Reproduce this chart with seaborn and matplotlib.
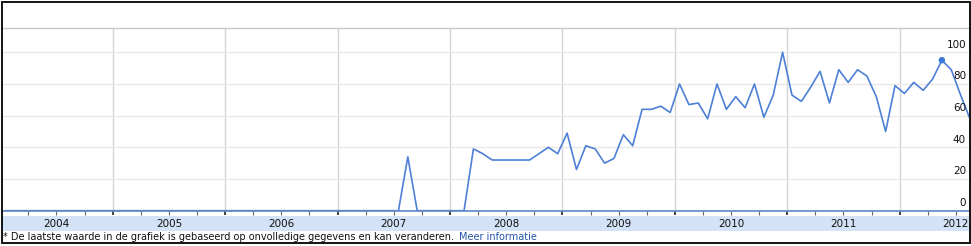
import numpy as np
import pandas as pd
import matplotlib
matplotlib.use("Agg")
import matplotlib.pyplot as plt
import seaborn as sns
from matplotlib.patches import Rectangle
from matplotlib.transforms import blended_transform_factory

# ---------------- data ----------------
months = pd.period_range("2004-01", "2012-08", freq="M").astype(str).tolist()
values = ([0] * 43 + [34] + [0] * 6 +
          [39, 36, 32, 32, 32, 32, 32, 36, 40, 36,
           49, 26, 41, 39, 30, 33, 48, 41, 64, 64, 66, 62,
           80, 67, 68, 58, 80, 64, 72, 65, 80, 59, 73, 100,
           73, 69, 78, 88, 68, 89, 81, 89, 85, 72, 50, 79,
           74, 81, 76, 83, 95, 89, 73, 58])
highlight_month = "2012-05"
year_labels = ["2004", "2005", "2006", "2007", "2008", "2009", "2010", "2011", "2012"]
y_ticks = [0, 20, 40, 60, 80, 100]
footnote = "* De laatste waarde in de grafiek is gebaseerd op onvolledige gegevens en kan veranderen."
link_text = "Meer informatie"

df = pd.DataFrame({"month": months, "value": values})
df["x"] = np.arange(len(df)) + 0.5   # mid-month position (months since Jan 2004)

# ---------------- figure ----------------
sns.set_theme(style="white")
plt.rcParams["font.family"] = ["DejaVu Sans"]

W, H = 971, 246
fig = plt.figure(figsize=(W / 100, H / 100), dpi=100)
fig.patch.set_facecolor("white")


def fx(px):
    return px / W


def fy(py):
    return 1 - py / H


left, right, top, bottom = 2, 969, 28, 210.7
ax = fig.add_axes([fx(left), fy(bottom), fx(right - left), (bottom - top) / H])
ax.set_facecolor("white")

px_per_month = 112.43 / 12
px_per_unit = 1.584
x0_px = 0.27

# line
sns.lineplot(data=df, x="x", y="value", ax=ax, color="#4d80d6", linewidth=1.2)
hl = df[df["month"] == highlight_month]
sns.scatterplot(data=hl, x="x", y="value", ax=ax, color="#3f78dc", s=22,
                edgecolor="none", zorder=5)
ax.set_xlabel("")
ax.set_ylabel("")

# grid
ax.set_yticks(y_ticks)
ax.set_yticklabels([])
ax.tick_params(axis="y", length=0)
ax.yaxis.grid(True, color="#e8e8e8", linewidth=1)

year_starts = [12 * k for k in range(1, len(year_labels))]
quarters = [3 * k for k in range(1, 12 * len(year_labels) // 3) if (3 * k) % 12 != 0]
ax.set_xticks(year_starts)
ax.set_xticks(quarters, minor=True)
ax.set_xticklabels([])
ax.xaxis.grid(True, which="major", color="#d4d4d4", linewidth=1)
ax.tick_params(axis="x", which="major", direction="out", length=3.2, width=1.1,
               color="#111111", bottom=True)
ax.tick_params(axis="x", which="minor", direction="out", length=3.0, width=0.8,
               color="#666666", bottom=True)

# limits (after ticks so they are not expanded)
ax.set_xlim((left - x0_px) / px_per_month, (right - x0_px) / px_per_month)
ax.set_ylim(0, (bottom - top) / px_per_unit)

for s in ["left", "right"]:
    ax.spines[s].set_visible(False)
ax.spines["bottom"].set_color("#5c87c8")
ax.spines["bottom"].set_linewidth(1.2)
ax.spines["top"].set_color("#c8c8c8")
ax.spines["top"].set_linewidth(1)

# y labels inside, right
tr_y = blended_transform_factory(ax.transAxes, ax.transData)
for v in y_ticks:
    ax.text((966 - left) / (right - left), v + 3.0, str(v), transform=tr_y,
            ha="right", va="baseline", fontsize=7.5, color="#111111")

# band with year labels
fig.patches.append(Rectangle((fx(2), fy(231)), fx(967), 15 / H, transform=fig.transFigure,
                             facecolor="#d3e2f6", edgecolor="none", zorder=-1))
tr_x = blended_transform_factory(ax.transData, ax.transAxes)
for i, yl in enumerate(year_labels):
    ax.text(12 * i + 6, (bottom - 223.7) / (bottom - top), yl, transform=tr_x,
            ha="center", va="center", fontsize=7.5, color="#111111", clip_on=False,
            zorder=20)

# footnote
t1 = fig.text(fx(3), fy(240.3), footnote, fontsize=7, va="baseline", color="#111111")
fig.canvas.draw()
bb = t1.get_window_extent()
fig.text(bb.x1 / W + fx(4.5), fy(240.3), link_text, fontsize=7, va="baseline",
         color="#2256a8")

# outer frame
fig.patches.append(Rectangle((fx(1.5), fy(242.5)), fx(968.3), 240.5 / H,
                             transform=fig.transFigure, fill=False,
                             edgecolor="black", linewidth=1.3, zorder=10))

fig.savefig("out.png", dpi=100)
